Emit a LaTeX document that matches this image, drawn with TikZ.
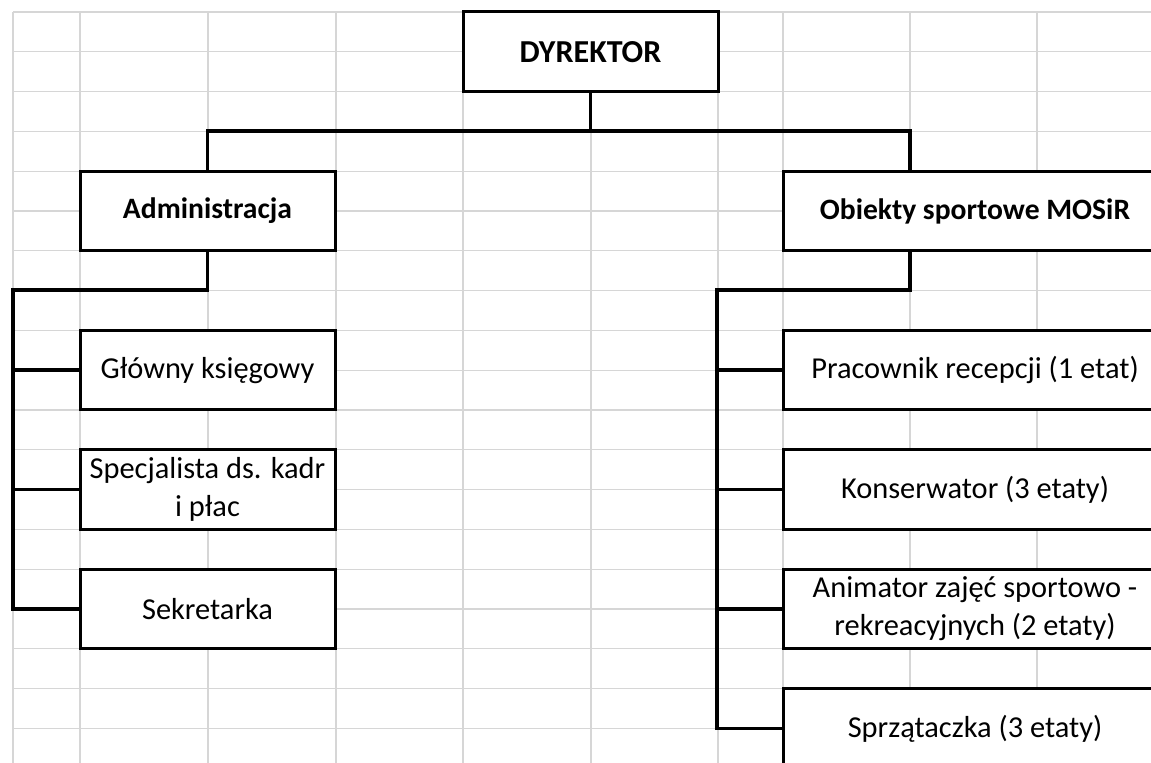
\documentclass[tikz,border=0pt]{standalone}
\usepackage{fontspec}
\setmainfont{Carlito}
\usepackage{tikz}
\usetikzlibrary{positioning,calc}

\begin{document}
\begin{tikzpicture}[
x=0.5pt, y=-0.5pt,
node distance=19.9pt,
orgbox/.style={draw, line width=1.5pt, fill=white, align=center, minimum width=127.5pt, minimum height=39.8pt, inner sep=2pt, outer sep=0pt, font=\fontsize{15.2}{19}\selectfont},
headbox/.style={orgbox, font=\fontsize{14.8}{19}\selectfont\bfseries},
sportbox/.style={orgbox, minimum width=192pt},
link/.style={line width=1.7pt},
gridline/.style={gray!32, line width=0.6pt}
]
\useasboundingbox (0,0) rectangle (1151,763);
\foreach \gx in {13,80,208,336,463,591,718,783,910,1037}
  \draw[gridline] (\gx,12) -- (\gx,763);
\foreach \k in {0,...,18}
  \draw[gridline] (13,{12+39.8*\k}) -- (1151,{12+39.8*\k});

\node[headbox, font=\fontsize{16}{19}\selectfont\bfseries, anchor=north west] (dyr) at (463,12) {DYREKTOR};
\node[headbox, anchor=north west] (adm) at (80,171.2) {Administracja};
\node[headbox, minimum width=192pt, anchor=north west] (obj) at (783,171.2) {Obiekty sportowe MOSiR};

\node[orgbox, anchor=north west] (ksieg) at (80,330.4) {Główny księgowy};
\node[orgbox, below=of ksieg] (kadry) {Specjalista ds. kadr\\i płac};
\node[orgbox, below=of kadry] (sekr) {Sekretarka};

\node[sportbox, anchor=north west] (recep) at (783,330.4) {Pracownik recepcji (1 etat)};
\node[sportbox, below=of recep] (kons) {Konserwator (3 etaty)};
\node[sportbox, below=of kons] (anim) {Animator zajęć sportowo -\\rekreacyjnych (2 etaty)};
\node[sportbox, below=of anim] (sprz) {Sprzątaczka (3 etaty)};

\coordinate (busR) at (910,131);
\coordinate (admrail) at (13,290);
\coordinate (objrail) at (717,290);
\draw[link] (dyr.south) -- (dyr.south |- busR);
\draw[link] (adm.north) |- (busR) -- (busR |- obj.north);
\draw[link] (adm.south) |- (admrail) |- (sekr.west);
\foreach \b in {ksieg,kadry}
  \draw[link] (admrail |- \b.west) -- (\b.west);
\draw[link] (busR |- obj.south) |- (objrail) |- (sprz.west);
\foreach \b in {recep,kons,anim}
  \draw[link] (objrail |- \b.west) -- (\b.west);
\end{tikzpicture}
\end{document}
